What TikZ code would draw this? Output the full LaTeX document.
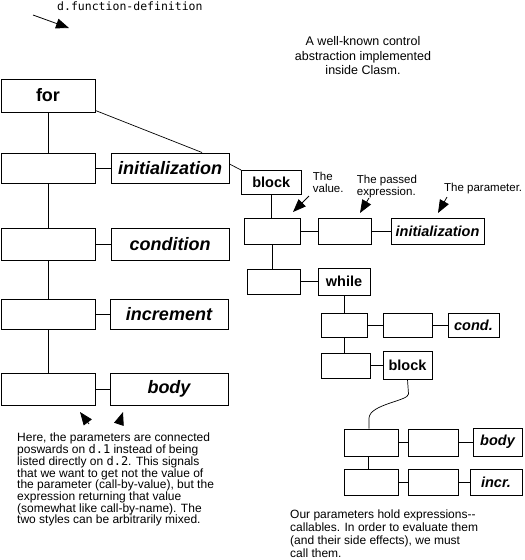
\documentclass[tikz,border=0pt]{standalone}
\usepackage{fontspec}
\setmainfont{Liberation Sans}
\newfontfamily\monof{DejaVu Sans Mono}
\usetikzlibrary{arrows.meta,calc}
\begin{document}
\begin{tikzpicture}[x=1pt,y=-1pt,
  bx/.style={draw, line width=1pt, inner sep=0pt},
  bigl/.style={bx, font=\fontsize{18}{18}\selectfont\bfseries},
  bigi/.style={bx, font=\fontsize{18}{18}\selectfont\bfseries\itshape},
  smll/.style={bx, font=\fontsize{14.5}{14.5}\selectfont\bfseries},
  smli/.style={bx, font=\fontsize{14.5}{14.5}\selectfont\bfseries\itshape},
  ln/.style={line width=1pt},
  thinln/.style={line width=0.7pt},
  arr/.style={line width=0.8pt, -{Triangle[length=13pt,width=10pt]}},
  txt/.style={inner sep=0pt, align=left, font=\fontsize{12}{11.7}\selectfont},
  ann/.style={inner sep=0pt, align=left, font=\fontsize{11.5}{11.7}\selectfont}
]
\useasboundingbox (0,0) rectangle (525,560);

% left column
\node[bigl, minimum width=94, minimum height=33] (for) at (48,95.5) {for};
\node[bx, minimum width=94, minimum height=30] (b1) at (48,168) {};
\node[bigi, minimum width=118, minimum height=30] (init) at (170,168) {initialization};
\node[bx, minimum width=94, minimum height=32] (b2) at (48,244) {};
\node[bigi, minimum width=118, minimum height=32] (cond) at (170,244) {condition};
\node[bx, minimum width=94, minimum height=30] (b3) at (48,314) {};
\node[bigi, minimum width=118, minimum height=30] (incr) at (169,314) {increment};
\node[bx, minimum width=94, minimum height=32] (b4) at (48,389) {};
\node[bigi, minimum width=118, minimum height=32] (body) at (169,389) {body};

\draw[ln] (for) -- (b1);
\draw[ln] (b1) -- (b2);
\draw[ln] (b2) -- (b3);
\draw[ln] (b3) -- (b4);
\draw[ln] (b1) -- (init);
\draw[ln] (b2) -- (cond);
\draw[ln] (b3) -- (incr);
\draw[ln] (b4) -- (body);

% right structure
\node[smll, minimum width=59.5, minimum height=23.5] (block) at (271.25,182.25) {block};
\node[bx, minimum width=56, minimum height=26] (A) at (272,231) {};
\node[bx, minimum width=53, minimum height=26] (B) at (344.5,231) {};
\node[smli, minimum width=93, minimum height=26] (init2) at (437.5,231) {initialization};
\node[bx, minimum width=53, minimum height=25] (C) at (273.5,281.5) {};
\node[smll, minimum width=52, minimum height=27] (while) at (344,281.5) {while};
\node[bx, minimum width=46, minimum height=24] (D) at (344,325) {};
\node[bx, minimum width=49, minimum height=24] (E) at (407.5,325) {};
\node[smli, minimum width=51, minimum height=24] (cond2) at (473.5,325) {cond.};
\node[bx, minimum width=49, minimum height=25] (F) at (345.5,365.5) {};
\node[smll, minimum width=49, minimum height=28] (block2) at (407.5,365) {block};
\node[bx, minimum width=54, minimum height=27] (G) at (371,442.5) {};
\node[bx, minimum width=50, minimum height=27] (H) at (433,442.5) {};
\node[smli, minimum width=49, minimum height=28] (body2) at (497.5,442) {body};
\node[bx, minimum width=54, minimum height=26] (I) at (371,482) {};
\node[bx, minimum width=50, minimum height=26] (J) at (433,482) {};
\node[smli, minimum width=52, minimum height=26] (incr2) at (496,482) {incr.};

\draw[thinln] ([yshift=2pt]for.south east) -- ([xshift=32pt]init.north);
\draw[thinln] ([yshift=4pt]init.east) -- (block.north west);
\draw[ln] (block.south) -- (block.south |- A.north);
\draw[ln] (A) -- (B);
\draw[ln] (B) -- (init2);
\draw[ln] (A.south) -- (A.south |- C.north);
\draw[ln] (C) -- (while);
\draw[ln] (while.south) -- (while.south |- D.north);
\draw[ln] (D) -- (E);
\draw[ln] (E) -- (cond2);
\draw[ln] (D.south) -- (D.south |- F.north);
\draw[ln] (F.east) -- (F.east -| block2.west);
\coordinate (w1) at (408.5,394);
\coordinate (w1c) at (408.5,401);
\coordinate (w2c) at (370,404);
\coordinate (w2) at (369,418);
\draw[thinln] (block2.south) -- (w1) .. controls (w1c) and (w2c) .. (w2) -- (w2 |- G.north);
\draw[ln] (G) -- (H);
\draw[ln] (H.east) -- (H.east -| body2.west);
\draw[ln] ([xshift=-3pt]G.south) -- ([xshift=-3pt]G.south |- I.north);
\draw[ln] (I) -- (J);
\draw[ln] (J) -- (incr2);

% texts
\node[inner sep=0pt, anchor=base west, font=\fontsize{11.5}{11.5}\monof] (fd) at (57,10.5) {d.function-definition};
\coordinate (ta) at (33,15);
\coordinate (ha) at (69,28);
\draw[arr] (ta) -- (ha);

\node[inner sep=0pt, anchor=north, align=center, font=\fontsize{12.5}{14.3}\selectfont] (title) at (363,36.5) {A well-known control\\abstraction implemented\\inside Clasm.};

\node[ann, anchor=north west] (tv) at (312.7,172.3) {The\\value.};
\node[ann, anchor=north west] (tp) at (356.7,175) {The passed\\expression.};
\node[ann, anchor=north west] (tpar) at (444,182.7) {The parameter.};
\coordinate (va) at (309,196);
\coordinate (vh) at (293,212);
\coordinate (pa) at (369,198);
\coordinate (ph) at (360,213);
\coordinate (qa) at (447,197);
\coordinate (qh) at (438,213);
\draw[arr] (va) -- (vh);
\draw[arr] (pa) -- (ph);
\draw[arr] (qa) -- (qh);

\coordinate (l1a) at (89,424);
\coordinate (l1h) at (80,412);
\coordinate (l2a) at (119,424);
\coordinate (l2h) at (123,412);
\draw[arr] (l1a) -- (l1h);
\draw[arr] (l2a) -- (l2h);

\node[txt, anchor=north west] (para1) at (17,433) {Here, the parameters are connected\\
poswards on {\monof d.1} instead of being\\
listed directly on {\monof d.2}. This signals\\
that we want to get not the value of\\
the parameter (call-by-value), but the\\
expression returning that value\\
(somewhat like call-by-name). The\\
two styles can be arbitrarily mixed.};

\node[inner sep=0pt, align=left, font=\fontsize{12}{12.7}\selectfont, anchor=north west] (para2) at (290,510) {Our parameters hold expressions-{}-\\
callables. In order to evaluate them\\
(and their side effects), we must\\
call them.};
\end{tikzpicture}
\end{document}
